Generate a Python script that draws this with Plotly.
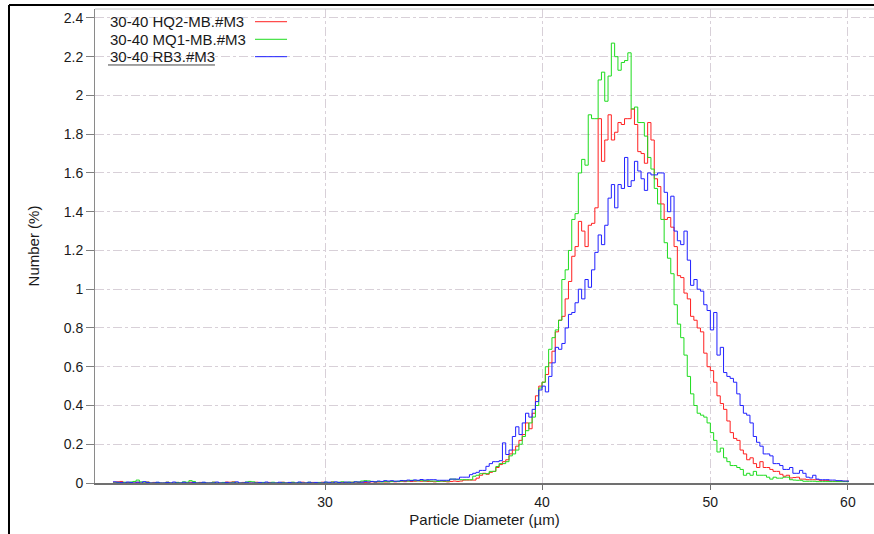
import plotly.graph_objects as go

# ---- channel definition (log-spaced diameter bins, µm) ----
D_FIRST = 22.65      # lower edge of the first channel
LOG_STEP = 0.0019    # channel width in log10(µm)

# ---- sample names and colours ----
NAMES = ["30-40 HQ2-MB.#M3", "30-40 MQ1-MB.#M3", "30-40 RB3.#M3"]
COLORS = ["#ff2020", "#1edc1e", "#2020ff"]

# ---- number % per channel: low-size tail (22.6 - 34.5 µm) ----
hq2_tail = [
    0.004, 0.006, 0.008, 0.0, 0.003, 0.0, 0.0, 0.004, 0.0, 0.0, 0.005, 0.0,
    0.003, 0.0, 0.0, 0.0, 0.004, 0.0, 0.0, 0.003, 0.0, 0.0, 0.0, 0.004,
    0.0, 0.0, 0.003, 0.0, 0.0, 0.0, 0.004, 0.0, 0.0, 0.0, 0.005, 0.004,
    0.006, 0.0, 0.0, 0.003, 0.0, 0.0, 0.0, 0.004, 0.0, 0.0, 0.0, 0.003,
    0.0, 0.0, 0.0, 0.004, 0.0, 0.0, 0.003, 0.0, 0.0, 0.004, 0.0, 0.0,
    0.003, 0.0, 0.0, 0.004, 0.0, 0.0, 0.005, 0.0, 0.0, 0.004, 0.003, 0.0,
    0.004, 0.0, 0.003, 0.005, 0.003, 0.004, 0.006, 0.004, 0.005, 0.007, 0.005, 0.006,
    0.008, 0.006, 0.007, 0.009, 0.007, 0.01, 0.008, 0.009, 0.011, 0.009, 0.01, 0.008,
]
mq1_tail = [
    0.0, 0.003, 0.0, 0.004, 0.0, 0.005, 0.008, 0.015, 0.006, 0.0, 0.004, 0.0,
    0.0, 0.003, 0.0, 0.0, 0.004, 0.0, 0.0, 0.003, 0.0, 0.006, 0.004, 0.012,
    0.008, 0.0, 0.0, 0.003, 0.0, 0.0, 0.004, 0.0, 0.0, 0.003, 0.0, 0.0,
    0.004, 0.0, 0.0, 0.0, 0.005, 0.008, 0.006, 0.0, 0.0, 0.003, 0.0, 0.0,
    0.004, 0.0, 0.0, 0.003, 0.0, 0.0, 0.004, 0.0, 0.003, 0.0, 0.0, 0.004,
    0.0, 0.0, 0.003, 0.0, 0.004, 0.0, 0.005, 0.0, 0.004, 0.006, 0.0, 0.005,
    0.004, 0.006, 0.005, 0.01, 0.012, 0.011, 0.008, 0.006, 0.007, 0.005, 0.008, 0.006,
    0.007, 0.009, 0.008, 0.01, 0.012, 0.01, 0.014, 0.012, 0.011, 0.014, 0.01, 0.012,
]
rb3_tail = [
    0.006, 0.004, 0.003, 0.0, 0.005, 0.003, 0.0, 0.004, 0.0, 0.007, 0.003, 0.0,
    0.0, 0.004, 0.0, 0.0, 0.003, 0.0, 0.005, 0.0, 0.0, 0.004, 0.0, 0.0,
    0.003, 0.0, 0.0, 0.004, 0.0, 0.0, 0.0, 0.005, 0.0, 0.0, 0.003, 0.0,
    0.0, 0.006, 0.0, 0.0, 0.004, 0.0, 0.0, 0.0, 0.003, 0.0, 0.005, 0.0,
    0.0, 0.0, 0.004, 0.0, 0.0, 0.003, 0.0, 0.0, 0.005, 0.0, 0.0, 0.004,
    0.0, 0.003, 0.0, 0.0, 0.005, 0.004, 0.0, 0.006, 0.003, 0.0, 0.005, 0.004,
    0.0, 0.006, 0.005, 0.004, 0.007, 0.005, 0.008, 0.006, 0.01, 0.008, 0.012, 0.01,
    0.012, 0.009, 0.01, 0.013, 0.011, 0.015, 0.012, 0.016, 0.014, 0.018, 0.015, 0.017,
]

# ---- number % per channel: main peak (34.5 - 60 µm) ----
hq2_main = [
    0.008, 0.006, 0.008, 0.01, 0.008, 0.006, 0.008, 0.01, 0.008, 0.01, 0.015, 0.015,
    0.015, 0.015, 0.025, 0.04, 0.05, 0.045, 0.055, 0.06, 0.08, 0.095, 0.11, 0.12,
    0.15, 0.17, 0.19, 0.22, 0.25, 0.31, 0.28, 0.36, 0.45, 0.50, 0.52, 0.56,
    0.62, 0.68, 0.78, 0.84, 0.86, 0.95, 1.04, 1.17, 1.22, 1.35, 1.30, 1.22,
    1.33, 1.34, 1.42, 1.88, 1.66, 1.77, 1.90, 1.77, 1.81, 1.86, 1.85, 1.88,
    1.88, 1.93, 1.85, 1.71, 1.70, 1.65, 1.86, 1.77, 1.57, 1.53, 1.44, 1.36,
    1.37, 1.32, 1.22, 1.07, 1.06, 0.98, 0.95, 0.86, 0.84, 0.80, 0.78, 0.67,
    0.60, 0.58, 0.52, 0.45, 0.41, 0.38, 0.32, 0.26, 0.23, 0.22, 0.17, 0.15,
    0.12, 0.13, 0.10, 0.08, 0.11, 0.08, 0.08, 0.07, 0.06, 0.06, 0.045, 0.035,
    0.04, 0.026, 0.028, 0.03, 0.02, 0.02, 0.017, 0.017, 0.017, 0.017, 0.012, 0.012,
    0.012, 0.009, 0.009, 0.009, 0.009, 0.009, 0.009,
]
mq1_main = [
    0.01, 0.01, 0.008, 0.01, 0.01, 0.01, 0.02, 0.02, 0.017, 0.017, 0.017, 0.017,
    0.017, 0.035, 0.04, 0.048, 0.048, 0.048, 0.06, 0.06, 0.085, 0.10, 0.10, 0.11,
    0.14, 0.15, 0.17, 0.20, 0.24, 0.27, 0.31, 0.34, 0.40, 0.49, 0.52, 0.60,
    0.69, 0.75, 0.79, 0.84, 1.05, 1.10, 1.20, 1.36, 1.39, 1.60, 1.67, 1.64,
    1.90, 1.88, 1.88, 2.08, 2.12, 1.97, 2.10, 2.27, 2.20, 2.13, 2.17, 2.18,
    2.22, 1.93, 1.94, 1.86, 1.86, 1.79, 1.68, 1.62, 1.52, 1.44, 1.36, 1.24,
    1.16, 1.08, 0.92, 0.82, 0.75, 0.66, 0.55, 0.46, 0.40, 0.36, 0.35, 0.34,
    0.31, 0.26, 0.22, 0.16, 0.18, 0.13, 0.11, 0.09, 0.09, 0.08, 0.07, 0.04,
    0.05, 0.04, 0.06, 0.04, 0.04, 0.04, 0.03, 0.02, 0.03, 0.025, 0.025, 0.03,
    0.03, 0.017, 0.015, 0.014, 0.014, 0.009, 0.009, 0.009, 0.009, 0.007, 0.007, 0.007,
    0.007, 0.007, 0.007, 0.007, 0.007, 0.007, 0.007,
]
rb3_main = [
    0.017, 0.017, 0.014, 0.014, 0.014, 0.014, 0.02, 0.02, 0.02, 0.03, 0.03, 0.03,
    0.043, 0.05, 0.055, 0.065, 0.065, 0.086, 0.10, 0.11, 0.11, 0.115, 0.207, 0.147,
    0.17, 0.24, 0.29, 0.25, 0.31, 0.36, 0.34, 0.38, 0.42, 0.48, 0.50, 0.47,
    0.55, 0.62, 0.70, 0.69, 0.72, 0.80, 0.87, 0.88, 0.93, 1.00, 0.95, 1.05,
    1.01, 1.10, 1.19, 1.28, 1.23, 1.33, 1.47, 1.54, 1.42, 1.54, 1.52, 1.68,
    1.53, 1.56, 1.66, 1.61, 1.57, 1.51, 1.60, 1.59, 1.59, 1.60, 1.60, 1.50,
    1.40, 1.48, 1.30, 1.25, 1.23, 1.30, 1.15, 1.02, 1.05, 1.00, 0.99, 0.92,
    0.89, 0.79, 0.88, 0.66, 0.70, 0.57, 0.55, 0.54, 0.52, 0.46, 0.40, 0.36,
    0.35, 0.31, 0.24, 0.21, 0.19, 0.15, 0.15, 0.14, 0.10, 0.10, 0.09, 0.07,
    0.07, 0.08, 0.05, 0.05, 0.065, 0.05, 0.03, 0.026, 0.04, 0.02, 0.017, 0.017,
    0.017, 0.015, 0.015, 0.012, 0.012, 0.01, 0.01,
]

# ---- axis ticks ----
X_TICKS = [30, 40, 50, 60]
Y_MAX = 2.446
X_RANGE_LOG = [1.34471, 1.79318]

series = [hq2_tail + hq2_main, mq1_tail + mq1_main, rb3_tail + rb3_main]
n_bins = len(series[0])
edges = [D_FIRST * 10 ** (LOG_STEP * k) for k in range(n_bins + 1)]

fig = go.Figure()
for name, color, vals in zip(NAMES, COLORS, series):
    fig.add_trace(go.Scatter(
        x=edges, y=list(vals) + [vals[-1]],
        mode="lines", line=dict(color=color, width=1, shape="hv"),
        name=name, showlegend=False, hoverinfo="skip",
    ))

GRID = "#d8d0d8"
FONT = "Liberation Sans, Arial, sans-serif"

fig.update_layout(
    width=874, height=534,
    margin=dict(l=95, r=0, t=9, b=51),
    paper_bgcolor="white", plot_bgcolor="white",
    font=dict(family=FONT, size=14, color="#1a1a1a"),
    xaxis=dict(
        type="log", range=X_RANGE_LOG,
        tickvals=X_TICKS, ticktext=[str(t) for t in X_TICKS],
        ticks="outside", ticklen=5, tickcolor="#707070", tickwidth=1,
        showline=True, linecolor="#707070", linewidth=2,
        showgrid=True, gridcolor=GRID, griddash="dashdot", gridwidth=1,
        zeroline=False, tickfont=dict(size=14),
        title=dict(text="Particle Diameter (µm)", font=dict(size=15), standoff=6),
    ),
    yaxis=dict(
        range=[0, Y_MAX], tick0=0, dtick=0.2,
        ticks="outside", ticklen=8, tickcolor="#808080", tickwidth=1,
        showline=True, linecolor="#8a8a8a", linewidth=1,
        showgrid=True, gridcolor=GRID, griddash="dashdot", gridwidth=1,
        zeroline=False, tickfont=dict(size=14),
        title=dict(text="Number (%)", font=dict(size=15), standoff=20),
    ),
)

# plot-area top border and outer window frame
fig.add_shape(type="line", xref="paper", yref="paper", x0=0, x1=1, y0=1, y1=1,
              line=dict(color="#c4c4c4", width=1))
fig.add_shape(type="line", xref="paper", yref="paper", x0=-0.1104, x1=1.01, y0=1.0084, y1=1.0084,
              line=dict(color="black", width=2))
fig.add_shape(type="line", xref="paper", yref="paper", x0=-0.1104, x1=-0.1104, y0=-0.12, y1=1.0084,
              line=dict(color="black", width=2))

# legend: name on the left, line sample on the right
leg_y = [0.9732, 0.9361, 0.8994]
for name, color, yy in zip(NAMES, COLORS, leg_y):
    fig.add_annotation(x=0.0167, y=yy, xref="paper", yref="paper", text=name,
                       showarrow=False, xanchor="left", yanchor="middle",
                       font=dict(size=15, color="#1a1a1a"))
    fig.add_shape(type="line", xref="paper", yref="paper", x0=0.2054, x1=0.2465, y0=yy, y1=yy,
                  line=dict(color=color, width=1))
fig.add_shape(type="line", xref="paper", yref="paper", x0=0.0167, x1=0.154, y0=0.8819, y1=0.8819,
              line=dict(color="#444444", width=1))

fig.write_html("out.html")
